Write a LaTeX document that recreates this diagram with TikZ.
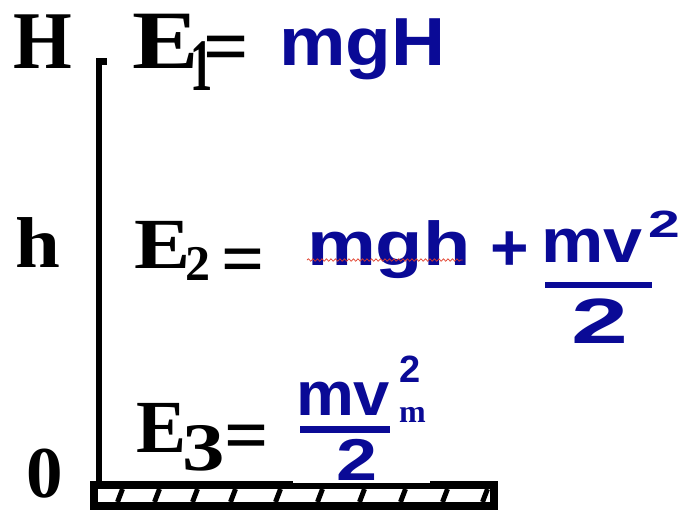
\documentclass[tikz,border=0pt]{standalone}
\usepackage{fontspec}
\usepackage{graphicx}
\usetikzlibrary{decorations.pathmorphing}
\newfontfamily\tms{Liberation Serif}
\newfontfamily\ari{Liberation Sans}
\definecolor{eqblue}{RGB}{10,10,150}
\definecolor{squig}{RGB}{225,60,40}
\newcommand\sz[1]{\fontsize{#1}{#1}\selectfont}
\newcommand\hs[2]{\scalebox{#1}[1]{#2}}
\begin{document}
\begin{tikzpicture}[x=1pt,y=-1pt,
  lbl/.style={anchor=base west,inner sep=0pt,outer sep=0pt,font=\tms\bfseries},
  blu/.style={anchor=base west,inner sep=0pt,outer sep=0pt,text=eqblue,font=\ari\bfseries},
  bar/.style={draw=eqblue,line width=6.5pt},
  axis/.style={line width=6pt},
  hatch/.style={line width=5pt},
  groundbox/.style={line width=8pt}]
\useasboundingbox (0,0) rectangle (693,512);
\fill[white] (0,0) rectangle (693,512);
% ground
\coordinate (gtl) at (94,484.5);
\coordinate (gbr) at (494,506);
\draw[groundbox] (gtl) rectangle (gbr);
\foreach \x in {120,157,195,233,278,320,362,403,445,485}
  \draw[hatch] (\x-2.5,502) -- (\x+2.5,489);
\fill[white] (293,440) rectangle (430,483);
% axis
\coordinate (atop) at (98.5,58);
\coordinate (abot) at (98.5,481);
\draw[axis] (abot) -- (atop);
\fill (95.5,58) rectangle (107,65);
% left labels
\node[lbl] (H) at (13,68) {\sz{82}\hs{0.92}{H}};
\node[lbl] (h) at (16,267) {\sz{72}\hs{1.12}{h}};
\node[lbl] (zero) at (27,497) {\sz{73}0};
% E1
\node[lbl] (E1) at (132,68) {\sz{83}\hs{1.2}{E}};
\node[lbl] (E1s) at (190,90) {\sz{74}\hs{0.6}{1}};
\node[lbl] (E1eq) at (203,73) {\sz{80}=};
\node[blu] (mgH) at (279,65) {\sz{68}\hs{1.1}{mgH}};
% E2
\node[lbl] (E2) at (134,268) {\sz{72}\hs{1.17}{E}};
\node[lbl] (E2s) at (185,280) {\sz{50}2};
\node[lbl] (E2eq) at (221,284) {\sz{76}=};
\node[blu] (mgh) at (307,265) {\sz{62}\hs{1.25}{mgh}};
\draw[squig,line width=0.7pt,decorate,decoration={snake,amplitude=1.2pt,segment length=4.5pt}]
  ([yshift=5pt]mgh.base west) -- ([xshift=-8pt,yshift=5pt]mgh.base east);
\node[blu] (plus) at (490,270) {\sz{66}+};
\node[blu] (mv2) at (541,262) {\sz{62}\hs{1.13}{mv}};
\node[blu] (sq2) at (648,237) {\sz{38}\hs{1.5}{2}};
\coordinate (b2l) at (545,285);
\coordinate (b2r) at (652,285);
\draw[bar] (b2l) -- (b2r);
\node[blu] (den2) at (571,343) {\sz{64}\hs{1.6}{2}};
% E3
\node[lbl] (E3) at (136,452) {\sz{75}E};
\node[lbl] (E3s) at (182,470) {\sz{68}\hs{1.25}{3}};
\node[lbl] (E3eq) at (224,461) {\sz{78}=};
\node[blu] (mv3) at (296,415) {\sz{62}\hs{1.05}{mv}};
\node[blu] (sq3) at (399,382) {\sz{38}2};
\node[lbl,text=eqblue] (sub3) at (399,422) {\sz{32}m};
\coordinate (b3l) at (300,429.5);
\coordinate (b3r) at (390,429.5);
\draw[bar,line width=7pt] (b3l) -- (b3r);
\node[blu] (den3) at (336,480) {\sz{59}\hs{1.25}{2}};
\end{tikzpicture}
\end{document}
